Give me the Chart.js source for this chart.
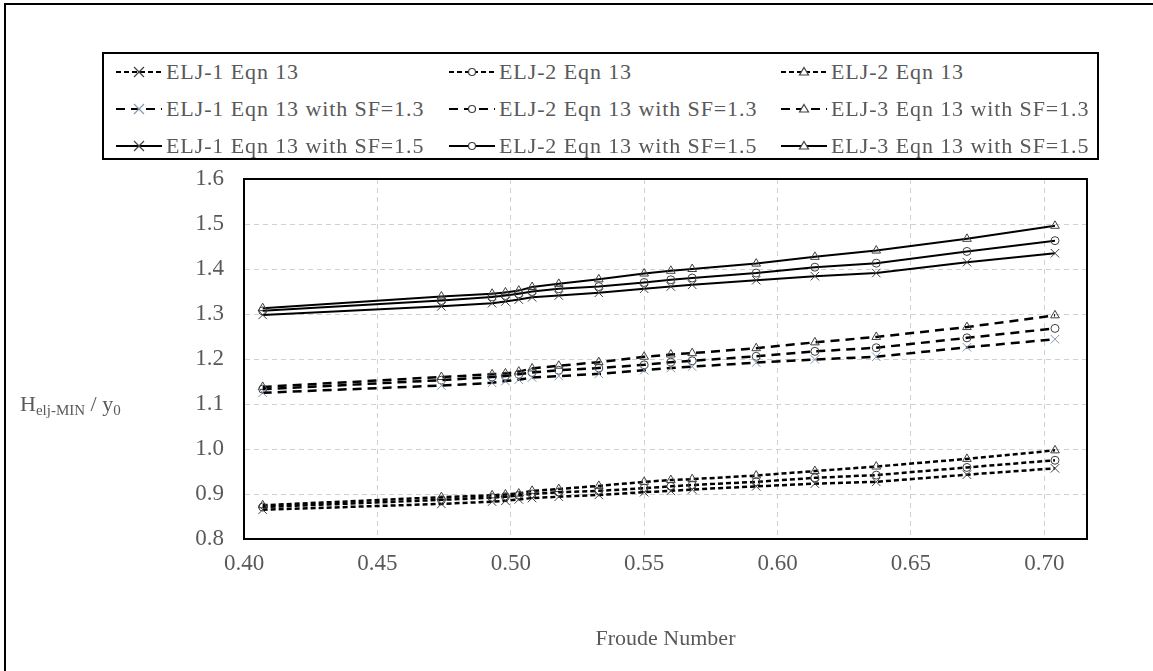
<!DOCTYPE html>
<html>
<head>
<meta charset="utf-8">
<script src="https://cdn.jsdelivr.net/npm/chart.js@4/dist/chart.umd.min.js"></script>
<style>
  body { margin: 0; background: #fff; font-family: "Liberation Serif", "DejaVu Serif", serif; }
  #wrap { position: relative; width: 1153px; height: 671px; overflow: hidden; }
  #frame { position: absolute; left: 4px; top: 3px; width: 1200px; height: 720px; border: 2px solid #000; box-sizing: border-box; }
  #chart { position: absolute; left: 0; top: 0; }
  #legend { position: absolute; left: 102px; top: 52px; width: 997px; height: 108px; border: 2px solid #000; box-sizing: border-box; background: #fff; }
  #legend ul { list-style: none; margin: 0; padding: 0 0 0 12px; display: grid; grid-template-columns: 333px 332px auto; grid-auto-rows: 36.7px; }
  #legend li { display: flex; align-items: center; white-space: nowrap; font-family: "Liberation Serif", serif; font-size: 22px; color: #595959; letter-spacing: 0.9px; }
  #legend li span { font-family: "Liberation Serif", serif; }
  #legend svg { flex: none; margin-right: 4px; }
  #ytitle { position: absolute; left: 20px; top: 391px; font-family: "Liberation Serif", serif; font-size: 22px; color: #595959; white-space: nowrap; }
  #ytitle sub { font-size: 15px; vertical-align: -4px; }
</style>
</head>
<body>
<div id="wrap">
  <div id="frame"></div>
  <canvas id="chart" width="1153" height="671"></canvas>
  <div id="legend"></div>
  <div id="ytitle">H<sub>elj-MIN</sub> / y<sub>0</sub></div>
</div>
<script>
// Froude numbers of the test points
const froude = [0.407, 0.474, 0.493, 0.498, 0.503, 0.508, 0.518, 0.533, 0.550, 0.560, 0.568, 0.592, 0.614, 0.637, 0.671, 0.704];

// Eqn 13, no safety factor
const elj1Eqn = [0.865, 0.878, 0.883, 0.885, 0.888, 0.891, 0.894, 0.898, 0.904, 0.907, 0.910, 0.917, 0.923, 0.927, 0.943, 0.957];
const elj2Eqn = [0.871, 0.887, 0.892, 0.894, 0.897, 0.900, 0.904, 0.907, 0.913, 0.917, 0.920, 0.927, 0.936, 0.942, 0.959, 0.975];
const elj3Eqn = [0.875, 0.893, 0.897, 0.899, 0.901, 0.907, 0.911, 0.918, 0.927, 0.931, 0.933, 0.941, 0.951, 0.961, 0.978, 0.997];

// Eqn 13 with SF=1.3
const elj1Sf13 = [1.125, 1.141, 1.147, 1.151, 1.154, 1.159, 1.162, 1.167, 1.175, 1.180, 1.183, 1.192, 1.199, 1.205, 1.226, 1.244];
const elj2Sf13 = [1.133, 1.153, 1.160, 1.162, 1.166, 1.170, 1.175, 1.180, 1.187, 1.193, 1.196, 1.206, 1.217, 1.225, 1.247, 1.268];
const elj3Sf13 = [1.138, 1.160, 1.166, 1.168, 1.172, 1.179, 1.185, 1.193, 1.205, 1.210, 1.213, 1.224, 1.237, 1.249, 1.271, 1.297];

// Eqn 13 with SF=1.5
const elj1Sf15 = [1.298, 1.317, 1.324, 1.328, 1.332, 1.337, 1.341, 1.347, 1.356, 1.361, 1.365, 1.375, 1.384, 1.391, 1.415, 1.435];
const elj2Sf15 = [1.307, 1.330, 1.338, 1.341, 1.345, 1.350, 1.356, 1.361, 1.370, 1.376, 1.380, 1.391, 1.404, 1.413, 1.439, 1.463];
const elj3Sf15 = [1.313, 1.339, 1.345, 1.348, 1.352, 1.360, 1.367, 1.377, 1.390, 1.396, 1.400, 1.412, 1.427, 1.441, 1.467, 1.496];

const xTicks = [0.40, 0.45, 0.50, 0.55, 0.60, 0.65, 0.70];
const yTicks = [0.8, 0.9, 1.0, 1.1, 1.2, 1.3, 1.4, 1.5, 1.6];

const markerDark = '#404040';
const markerBlue = '#8497b0';
const tickColor = '#595959';

function series(label, values, dash, style, markColor) {
    return {
        label: label,
        data: values.map((v, i) => ({ x: froude[i], y: v })),
        borderColor: '#000',
        borderWidth: dash.length ? 2.5 : 2,
        borderDash: dash,
        pointStyle: style,
        pointRadius: style === 'circle' ? 4 : (style === 'triangle' ? 5 : 6),
        pointBorderWidth: 1,
        pointBorderColor: markColor,
        pointBackgroundColor: 'rgba(0,0,0,0)',
        tension: 0
    };
}

const shortDash = [5, 3];
const longDash = [9, 6];

const datasets = [
    series('ELJ-1 Eqn 13', elj1Eqn, shortDash, 'crossRot', markerDark),
    series('ELJ-2 Eqn 13', elj2Eqn, shortDash, 'circle', markerDark),
    series('ELJ-2 Eqn 13', elj3Eqn, shortDash, 'triangle', markerDark),
    series('ELJ-1 Eqn 13 with SF=1.3', elj1Sf13, longDash, 'crossRot', markerBlue),
    series('ELJ-2 Eqn 13 with SF=1.3', elj2Sf13, longDash, 'circle', markerDark),
    series('ELJ-3 Eqn 13 with SF=1.3', elj3Sf13, longDash, 'triangle', markerDark),
    series('ELJ-1 Eqn 13 with SF=1.5', elj1Sf15, [], 'crossRot', markerDark),
    series('ELJ-2 Eqn 13 with SF=1.5', elj2Sf15, [], 'circle', markerDark),
    series('ELJ-3 Eqn 13 with SF=1.5', elj3Sf15, [], 'triangle', markerDark)
];

function markerSvg(style, color) {
    if (style === 'crossRot') {
        return `<path d="M18 5 L28 15 M28 5 L18 15" stroke="${color}" stroke-width="1.2" fill="none"/>`;
    }
    if (style === 'circle') {
        return `<circle cx="23" cy="10" r="3.5" stroke="${color}" stroke-width="1.2" fill="#fff"/>`;
    }
    return `<path d="M23 5.5 L27.5 13 L18.5 13 Z" stroke="${color}" stroke-width="1.2" fill="#fff"/>`;
}

// legend drawn as html, built from the datasets
const htmlLegend = {
    id: 'htmlLegend',
    afterUpdate(chart) {
        const box = document.getElementById('legend');
        let html = '<ul>';
        chart.data.datasets.forEach(ds => {
            const dash = ds.borderDash.length ? `stroke-dasharray="${ds.borderDash.join(',')}"` : '';
            html += `<li><svg width="46" height="20">
                <line x1="0" y1="10" x2="46" y2="10" stroke="#000" stroke-width="${ds.borderDash.length ? 2 : 1.8}" ${dash}/>
                ${markerSvg(ds.pointStyle, ds.pointBorderColor)}
              </svg><span>${ds.label}</span></li>`;
        });
        html += '</ul>';
        box.innerHTML = html;
    }
};

const plotBorder = {
    id: 'plotBorder',
    afterDraw(chart) {
        const a = chart.chartArea;
        const ctx = chart.ctx;
        ctx.save();
        ctx.strokeStyle = '#000';
        ctx.lineWidth = 2;
        ctx.strokeRect(a.left, a.top, a.right - a.left, a.bottom - a.top);
        ctx.restore();
    }
};

new Chart(document.getElementById('chart'), {
    type: 'line',
    data: { datasets: datasets },
    plugins: [htmlLegend, plotBorder],
    options: {
        responsive: false,
        animation: false,
        layout: { padding: { left: 0, top: 179, right: 66, bottom: 0 } },
        plugins: { legend: { display: false }, tooltip: { enabled: false } },
        scales: {
            x: {
                type: 'linear',
                min: 0.40,
                max: 0.716,
                afterBuildTicks: axis => { axis.ticks = xTicks.map(v => ({ value: v })); },
                afterFit: axis => { axis.height = 132; },
                grid: { color: '#d0d0d0', lineWidth: 1, drawTicks: false },
                border: { color: '#000', width: 2, dash: [5, 4] },
                ticks: {
                    color: tickColor,
                    padding: 11,
                    font: { family: 'Liberation Serif', size: 23 },
                    callback: v => v.toFixed(2)
                },
                title: {
                    display: true,
                    text: 'Froude Number',
                    color: tickColor,
                    font: { family: 'Liberation Serif', size: 22 },
                    padding: { top: 0, bottom: 19 }
                }
            },
            y: {
                min: 0.8,
                max: 1.6,
                afterBuildTicks: axis => { axis.ticks = yTicks.map(v => ({ value: v })); },
                afterFit: axis => { axis.width = 244; },
                grid: { color: '#d0d0d0', lineWidth: 1, drawTicks: false },
                border: { color: '#000', width: 2, dash: [5, 4] },
                ticks: {
                    color: tickColor,
                    padding: 20,
                    font: { family: 'Liberation Serif', size: 23 },
                    callback: v => v.toFixed(1)
                }
            }
        }
    }
});
</script>
</body>
</html>
